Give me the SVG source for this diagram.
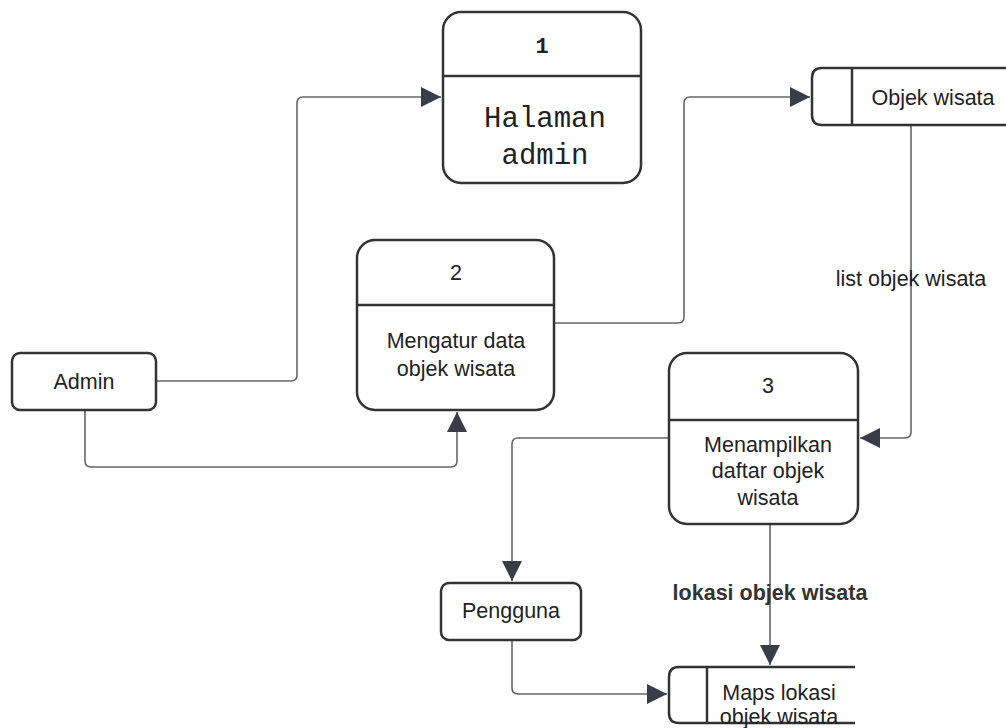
<svg xmlns="http://www.w3.org/2000/svg" width="1006" height="728" viewBox="0 0 1006 728">
<style>
.box{fill:#fff;stroke:#333;stroke-width:2.5}
.ln{fill:none;stroke:#333;stroke-width:2.5}
.con{fill:none;stroke:#666;stroke-width:1.6}
.t{font-family:"Liberation Sans",Arial,sans-serif;font-size:21.5px;fill:#222;text-anchor:middle}
.m{font-family:"Liberation Mono","Courier New",monospace;font-size:29px;fill:#222;text-anchor:middle}
.b{font-weight:bold;fill:#333}
</style>
<defs>
<marker id="ah" viewBox="0 0 10 10" refX="10" refY="5" markerWidth="20" markerHeight="20" markerUnits="userSpaceOnUse" orient="auto">
<path d="M0,0 L10,5 L0,10 Z" fill="#3a3d47"/>
</marker>
</defs>
<rect width="1006" height="728" fill="#fff"/>
<g id="connectors">
<path class="con" d="M156,381 H291 Q297,381 297,375 V103 Q297,97 303,97 H441" marker-end="url(#ah)"/>
<path class="con" d="M85,410 V461 Q85,467 91,467 H451 Q457,467 457,461 V412" marker-end="url(#ah)"/>
<path class="con" d="M554,323 H678 Q684,323 684,317 V103 Q684,97 690,97 H810" marker-end="url(#ah)"/>
<path class="con" d="M911,126 V432 Q911,438 905,438 H860" marker-end="url(#ah)"/>
<path class="con" d="M669,438 H518 Q512,438 512,444 V581" marker-end="url(#ah)"/>
<path class="con" d="M770,524 V665" marker-end="url(#ah)"/>
<path class="con" d="M512,640 V688 Q512,694 518,694 H667" marker-end="url(#ah)"/>
<text class="t" x="911" y="286">list objek wisata</text>
<text class="t b" x="770" y="600">lokasi objek wisata</text>
</g>
<g id="node1">
<rect class="box" x="443" y="12" width="198" height="171" rx="18"/>
<line class="ln" x1="443" y1="76" x2="641" y2="76"/>
<text class="m" x="542" y="53" style="font-size:22px;font-weight:bold">1</text>
<text class="m" x="545" y="127">Halaman</text>
<text class="m" x="545" y="164">admin</text>
</g>
<g id="objek-wisata">
<path class="ln" d="M1010,68 H822 Q812,68 812,78 V115 Q812,125 822,125 H1010" fill="#fff"/>
<line class="ln" x1="852" y1="68" x2="852" y2="125"/>
<text class="t" x="933" y="105">Objek wisata</text>
</g>
<g id="node2">
<rect class="box" x="357" y="240" width="197" height="170" rx="18"/>
<line class="ln" x1="357" y1="305" x2="554" y2="305"/>
<text class="t" x="456" y="280">2</text>
<text class="t" x="456" y="348">Mengatur data</text>
<text class="t" x="456" y="376">objek wisata</text>
</g>
<g id="admin">
<rect class="box" x="12" y="353" width="144" height="57" rx="8"/>
<text class="t" x="84" y="389">Admin</text>
</g>
<g id="node3">
<rect class="box" x="669" y="353" width="189" height="171" rx="18"/>
<line class="ln" x1="669" y1="420" x2="858" y2="420"/>
<text class="t" x="768" y="393">3</text>
<text class="t" x="768" y="452">Menampilkan</text>
<text class="t" x="768" y="478">daftar objek</text>
<text class="t" x="768" y="505">wisata</text>
</g>
<g id="pengguna">
<rect class="box" x="441" y="583" width="140" height="57" rx="8"/>
<text class="t" x="511" y="618">Pengguna</text>
</g>
<g id="maps">
<path class="ln" d="M855,667 H679 Q669,667 669,677 V713 Q669,723 679,723 H855" fill="#fff"/>
<line class="ln" x1="707" y1="667" x2="707" y2="723"/>
<text class="t" x="779" y="700">Maps lokasi</text>
<text class="t" x="779" y="724">objek wisata</text>
</g>
</svg>
